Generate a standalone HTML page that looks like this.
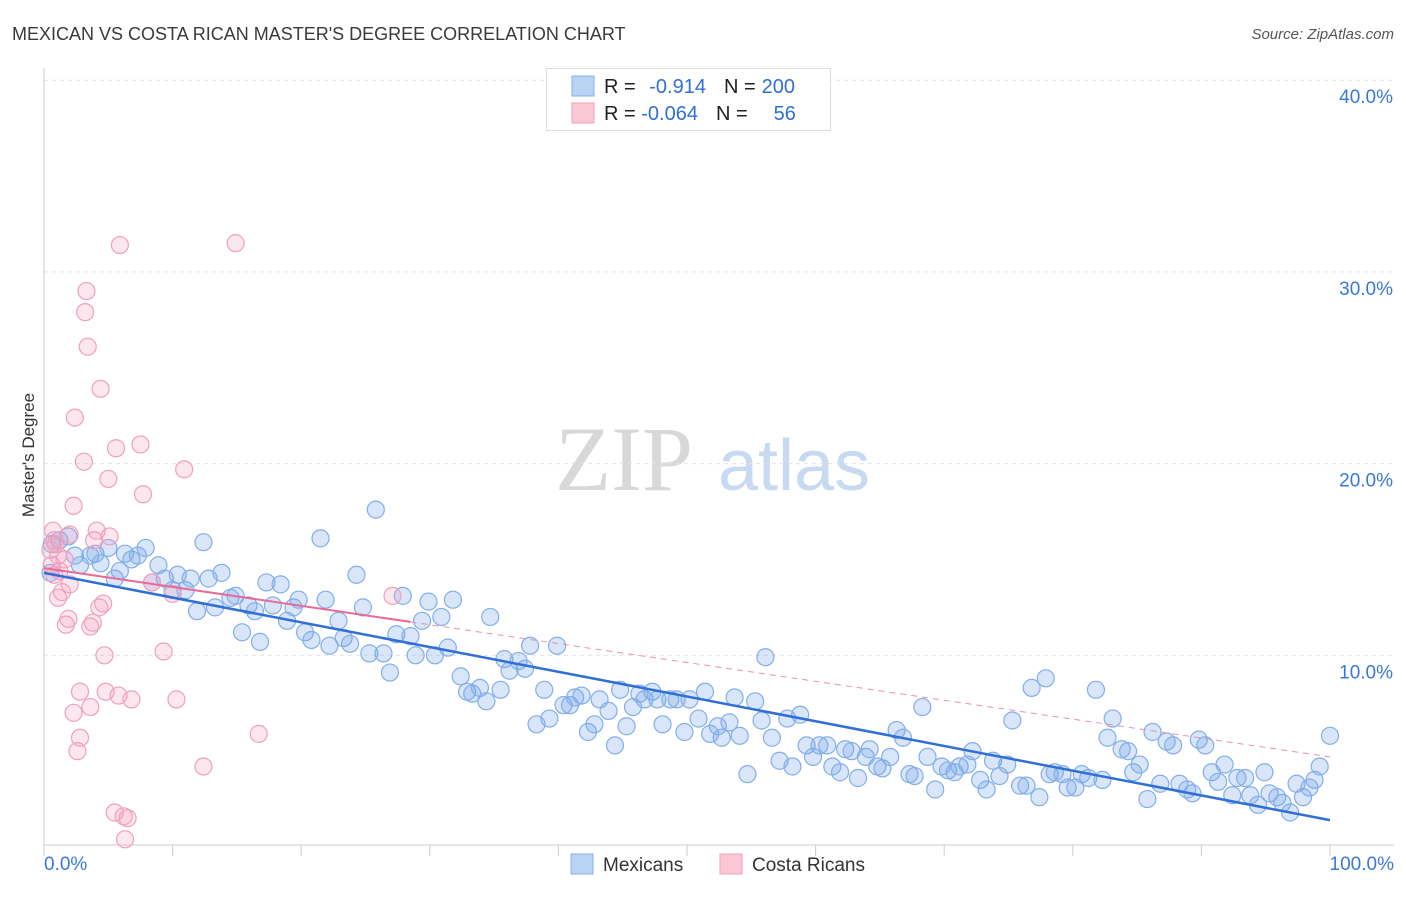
<!DOCTYPE html>
<html><head><meta charset="utf-8"><style>
body{margin:0;background:#fff;font-family:"Liberation Sans",sans-serif;}
svg text{font-family:"Liberation Sans",sans-serif;}
</style></head><body>
<svg width="1406" height="892" id="chart">
<text x="12" y="40" font-size="18" fill="#3a3a3a">MEXICAN VS COSTA RICAN MASTER'S DEGREE CORRELATION CHART</text>
<text x="1394" y="39" font-size="15" fill="#555" font-style="italic" text-anchor="end">Source: ZipAtlas.com</text>
<text x="34" y="455" font-size="17" fill="#333" text-anchor="middle" transform="rotate(-90 34 455)">Master's Degree</text>
<g>
<text x="555" y="490" font-size="92" fill="#d8d8d8" font-family="Liberation Serif,serif" style="font-family:'Liberation Serif',serif">ZIP</text>
<text x="718" y="490" font-size="72" fill="#c8daf2">atlas</text>
</g>
<g id="grid"></g><g id="axes"></g><g id="pts"></g><g id="lines"></g>
<g>
<rect x="546.5" y="68.5" width="284" height="62" fill="#fff" stroke="#ddd"/>
<rect x="572" y="76" width="22" height="20" fill="#b9d3f5" stroke="#88b0e8"/>
<rect x="572" y="103" width="22" height="20" fill="#fbc6d6" stroke="#f0a0ba"/>
<text x="604" y="93" font-size="20" fill="#222">R = <tspan fill="#2f6fd6" dx="8">-0.914</tspan><tspan fill="#222" dx="18">N =</tspan><tspan fill="#2f6fd6" dx="6">200</tspan></text>
<text x="604" y="120" font-size="20" fill="#222">R = <tspan fill="#2f6fd6">-0.064</tspan><tspan fill="#222" dx="18">N =</tspan><tspan fill="#2f6fd6" dx="26">56</tspan></text>
</g>
<g>
<rect x="571" y="854" width="22" height="20" fill="#b9d3f5" stroke="#88b0e8"/>
<text x="603" y="871" font-size="19" fill="#333">Mexicans</text>
<rect x="720" y="854" width="22" height="20" fill="#fbc6d6" stroke="#f0a0ba"/>
<text x="752" y="871" font-size="19" fill="#333">Costa Ricans</text>
</g>
</svg>
<script>
const yTicks=[10,20,30,40];
const yTickLabels=["10.0%","20.0%","30.0%","40.0%"];
const xTickLabels=["0.0%","100.0%"];
const mexX=[0.5,0.6,1.2,1.9,2.4,2.8,3.6,4.0,4.4,5.0,5.5,5.9,6.3,6.8,7.3,7.9,8.4,8.9,9.4,10.0,10.4,11.0,11.4,11.9,12.4,12.8,13.3,13.8,14.5,14.9,15.4,15.9,16.4,16.8,17.3,17.8,18.4,18.9,19.4,19.8,20.3,20.8,21.5,21.9,22.2,22.9,23.3,23.8,24.3,24.8,25.3,25.8,26.4,26.9,27.4,27.9,28.5,28.9,29.4,29.9,30.4,30.9,31.4,31.8,32.4,32.9,33.3,33.9,34.4,34.7,35.5,35.8,36.2,36.9,37.4,37.8,38.3,38.9,39.3,39.9,40.4,40.9,41.3,41.8,42.3,42.8,43.2,43.9,44.4,44.8,45.3,45.8,46.3,46.7,47.3,47.7,48.1,48.7,49.2,49.8,50.2,50.9,51.4,51.8,52.4,52.7,53.3,53.7,54.1,54.7,55.3,55.8,56.1,56.6,57.2,57.8,58.2,58.8,59.3,59.8,60.3,60.9,61.3,61.9,62.3,62.8,63.3,63.9,64.2,64.8,65.2,65.8,66.3,66.8,67.3,67.7,68.3,68.7,69.3,69.8,70.3,70.8,71.2,71.8,72.2,72.8,73.3,73.8,74.3,74.9,75.3,75.9,76.4,76.8,77.4,77.9,78.2,78.6,79.2,79.6,80.2,80.7,81.2,81.8,82.3,82.7,83.1,83.8,84.3,84.7,85.2,85.8,86.2,86.8,87.3,87.8,88.3,88.9,89.3,89.8,90.3,90.8,91.3,91.8,92.4,92.8,93.4,93.8,94.4,94.9,95.3,95.9,96.3,96.9,97.4,97.9,98.4,98.8,99.2,100];
const mexY=[14.3,15.8,16.0,16.2,15.2,14.7,15.2,15.3,14.8,15.6,14.0,14.4,15.3,15.0,15.2,15.6,13.8,14.7,14.0,13.4,14.2,13.4,14.0,12.3,15.9,14.0,12.5,14.3,13.0,13.1,11.2,12.6,12.3,10.7,13.8,12.6,13.7,11.8,12.5,12.9,11.2,10.8,16.1,12.9,10.5,11.8,10.9,10.6,14.2,12.5,10.1,17.6,10.1,9.1,11.1,13.1,11.0,10.0,11.8,12.8,10.0,12.0,10.4,12.9,8.9,8.1,8.0,8.3,7.6,12.0,8.2,9.8,9.2,9.7,9.3,10.5,6.4,8.2,6.7,10.5,7.4,7.4,7.8,7.9,6.0,6.4,7.7,7.1,5.3,8.2,6.3,7.3,8.0,7.7,8.1,7.7,6.4,7.7,7.7,6.0,7.7,6.7,8.1,5.9,6.3,5.7,6.5,7.8,5.8,3.8,7.6,6.6,9.9,5.7,4.5,6.7,4.2,6.9,5.3,4.7,5.3,5.3,4.2,3.9,5.1,5.0,3.6,4.7,5.1,4.2,4.1,4.7,6.1,5.7,3.8,3.7,7.3,4.7,3.0,4.2,4.0,3.9,4.2,4.3,5.0,3.5,3.0,4.5,3.7,4.3,6.6,3.2,3.2,8.3,2.6,8.8,3.8,3.9,3.8,3.1,3.1,3.8,3.6,8.2,3.5,5.7,6.7,5.1,5.0,3.9,4.3,2.5,6.0,3.3,5.5,5.3,3.3,3.0,2.8,5.6,5.3,3.9,3.4,4.3,2.7,3.6,3.6,2.7,2.2,3.9,2.8,2.6,2.3,1.8,3.3,2.6,3.1,3.5,4.2,5.8];
const crX=[5.9,14.9,3.3,3.2,3.4,4.4,2.4,5.6,7.5,3.1,5.0,10.9,7.7,2.3,0.7,2.0,4.1,5.1,3.9,0.5,1.1,1.6,0.6,1.2,0.8,2.0,1.4,1.1,8.4,10.0,4.6,4.3,1.9,1.7,3.8,3.6,27.1,4.7,9.3,2.8,4.8,5.8,6.8,10.3,3.6,2.3,16.7,2.8,2.6,12.4,5.5,6.2,6.5,6.3,0.8,0.9];
const crY=[31.4,31.5,29.0,27.9,26.1,23.9,22.4,20.8,21.0,20.1,19.2,19.7,18.4,17.8,16.5,16.3,16.5,16.2,16.0,15.5,15.2,15.0,14.7,14.4,14.2,13.7,13.3,13.0,13.8,13.2,12.7,12.5,11.9,11.6,11.7,11.5,13.1,10.0,10.2,8.1,8.1,7.9,7.7,7.7,7.3,7.0,5.9,5.7,5.0,4.2,1.8,1.6,1.5,0.4,16.0,15.8];
const mexFit=[14.3,1.4];
const crFit=[14.55,4.7];
const crSolidEnd=28.5;

const NS="http://www.w3.org/2000/svg";
const X0=44,X1=1330,Y0=847,PX=19.17;
const sx=v=>X0+(X1-X0)*v/100, sy=v=>Y0-v*PX;
function mk(tag,attrs,parent){const e=document.createElementNS(NS,tag);for(const k in attrs)e.setAttribute(k,attrs[k]);parent.appendChild(e);return e;}
const grid=document.getElementById('grid'),axes=document.getElementById('axes'),pts=document.getElementById('pts'),lines=document.getElementById('lines');
yTicks.forEach((t,i)=>{
 const g=mk('line',{x1:X0,x2:1394,y1:sy(t),y2:sy(t),stroke:'#e2e2e2','stroke-dasharray':'4,4'},grid);
 
 
 const tx=mk('text',{x:1393,y:sy(t)+23,'font-size':19,fill:'#3a78d8','text-anchor':'end'},axes);
 tx.textContent=yTickLabels[i];
 
 
});
const ax=mk('line',{x1:X0,x2:X0,y1:68,y2:845,stroke:'#ccc'},axes);


const bx=mk('line',{x1:X0,x2:1394,y1:845,y2:845,stroke:'#ccc'},axes);


for(let i=0;i<=10;i++){const t=mk('line',{x1:sx(i*10),x2:sx(i*10),y1:845,y2:856,stroke:'#ccc'},axes);
 
 }
[[0,'start',44],[100,'end',1394]].forEach((d,i)=>{const t=mk('text',{x:d[2],y:870,'font-size':19,fill:'#3a78d8','text-anchor':d[1]},axes);t.textContent=xTickLabels[i];
 
 });
mexX.forEach((x,i)=>{const c=mk('circle',{cx:sx(x),cy:sy(mexY[i]),r:8.5,fill:'rgba(120,165,235,0.28)',stroke:'#82aeea','stroke-width':1.2},pts);
 
 });
crX.forEach((x,i)=>{const c=mk('circle',{cx:sx(x),cy:sy(crY[i]),r:8.5,fill:'rgba(245,160,190,0.25)',stroke:'#f0a0ba','stroke-width':1.2},pts);
 
 });
const crAt=x=>crFit[0]+(crFit[1]-crFit[0])*x/100;
const l1=mk('line',{x1:sx(0),y1:sy(mexFit[0]),x2:sx(100),y2:sy(mexFit[1]),stroke:'#2f6fd6','stroke-width':2.5},lines);


const l2=mk('line',{x1:sx(0),y1:sy(crAt(0)),x2:sx(crSolidEnd),y2:sy(crAt(crSolidEnd)),stroke:'#e86a95','stroke-width':2},lines);


const l3=mk('line',{x1:sx(crSolidEnd),y1:sy(crAt(crSolidEnd)),x2:sx(100),y2:sy(crAt(100)),stroke:'#e890ad','stroke-width':1,'stroke-dasharray':'6,5'},lines);


</script>
</body></html>
